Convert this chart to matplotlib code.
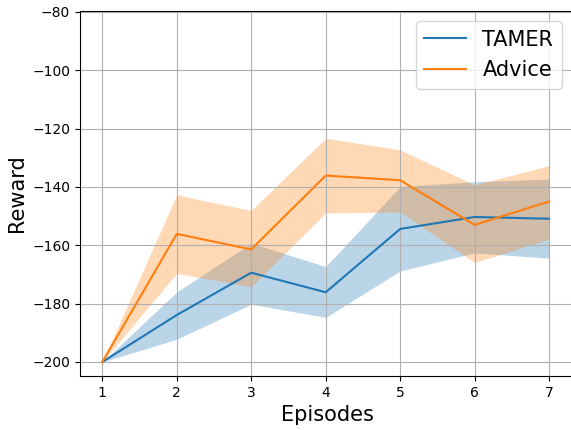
import matplotlib
matplotlib.use("Agg")
import matplotlib.pyplot as plt

episodes = [1, 2, 3, 4, 5, 6, 7]

tamer_mean = [-200, -183.9, -169.4, -176.1, -154.4, -150.3, -150.9]
tamer_low = [-200, -192.2, -180.2, -184.7, -168.8, -162.6, -164.4]
tamer_high = [-200, -176.0, -159.3, -167.3, -139.9, -138.2, -137.3]

advice_mean = [-200, -156.1, -161.4, -136.1, -137.7, -153.0, -145.0]
advice_low = [-200, -169.6, -174.2, -148.9, -148.6, -165.9, -157.9]
advice_high = [-200, -142.7, -148.1, -123.3, -127.3, -139.3, -132.7]

fig = plt.figure(figsize=(5.71, 4.30), dpi=100)
# axes run slightly past the right edge of the figure
ax = fig.add_axes([0.14, 0.1256, 0.868, 0.8488])

ax.plot(episodes, tamer_mean, color="C0", label="TAMER")
ax.fill_between(episodes, tamer_low, tamer_high, color="C0", alpha=0.3, linewidth=0)
ax.plot(episodes, advice_mean, color="C1", label="Advice")
ax.fill_between(episodes, advice_low, advice_high, color="C1", alpha=0.3, linewidth=0)

ax.set_xlim(0.7, 7.355)
ax.set_ylim(-204.8, -79.7)
ax.set_xticks(episodes)
ax.grid(True)
ax.set_xlabel("Episodes", fontsize=15)
ax.set_ylabel("Reward", fontsize=15)
ax.legend(loc="upper right", fontsize=15, bbox_to_anchor=(0.993, 1.0))

fig.savefig("out.png", dpi=100)
